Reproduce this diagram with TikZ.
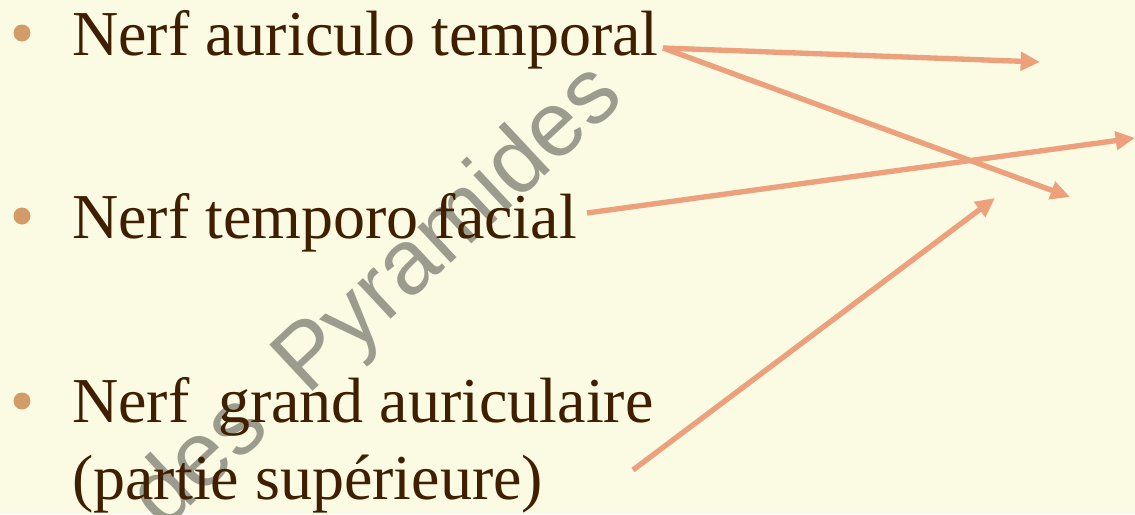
\documentclass[tikz,border=0pt]{standalone}
\usepackage{fontspec}
\setmainfont{Liberation Serif}
\newfontfamily\wmfont{Liberation Sans}
\usepackage{xcolor}
\usepackage{tikz}
\usetikzlibrary{positioning, arrows.meta, calc}

\definecolor{slidebg}{HTML}{FBFAE3}
\definecolor{nervetext}{HTML}{401F00}
\definecolor{bulletcol}{HTML}{D29B68}
\definecolor{arrowcol}{HTML}{ECA07B}
\definecolor{wmgray}{HTML}{9C9C8E}

\begin{document}
\begin{tikzpicture}[
    x=0.75pt, y=-0.75pt,
    item/.style={anchor=base west, inner sep=0pt, text=nervetext, align=left, font=\fontsize{48}{57.3}\selectfont},
    bulletdot/.style={fill=bulletcol, draw=none},
    arrow/.style={-{Triangle[length=14.5pt,width=13.5pt]}, line width=4pt, draw=arrowcol},
    watermark/.style={anchor=base west, inner sep=0pt, text=wmgray, rotate=43, font=\wmfont\fontsize{69}{69}\selectfont},
]

% Background
\fill[slidebg] (0,0) rectangle (1135,514);
\useasboundingbox (0,0) rectangle (1135,514);

% Watermark
\node[watermark] (wm) at (163,532) {des\hspace{0.54em}Pyramides};

% Bullets
\fill[bulletdot] (22,33) circle (8.5);
\fill[bulletdot] (22,216) circle (8.5);
\fill[bulletdot] (22,401) circle (8.5);

% Items
\node[item] (auric) at (72,55) {Nerf auriculo temporal};
\node[item] (tempfac) at (72,238) {Nerf temporo facial};
\node[item] (grandaur) at (72,499) {Nerf\hspace{0.45em}grand auriculaire\\(partie supérieure)};

% Arrow ends
\coordinate (auricout) at (663,48);
\coordinate (tempout) at (587,213);
\coordinate (grandout) at (633,470);
\coordinate (tip1) at (1040,62);
\coordinate (tip2) at (1070,197);
\coordinate (tip3) at (1135,138);
\coordinate (tip4) at (995,198);

% Arrows
\draw[arrow] (auricout) -- (tip1);
\draw[arrow] (auricout) -- (tip2);
\draw[arrow] (tempout) -- (tip3);
\draw[arrow] (grandout) -- (tip4);

\end{tikzpicture}
\end{document}
